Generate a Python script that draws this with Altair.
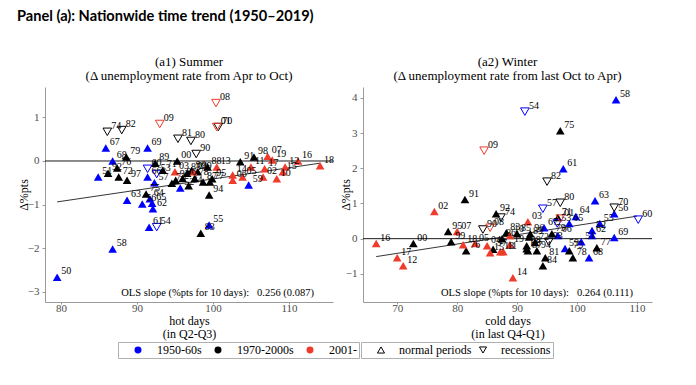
import altair as alt
import pandas as pd

SERIF = "Liberation Serif"

# ---------------- Panel (a1) Summer ----------------
summer_years = ["50","51","52","53","54","55","56","57","58","59",
                "60","61","62","63","64","65","66","67","68","69",
                "70","71","72","73","74","75","76","77","78","79",
                "80","81","82","83","84","85","86","87","88","89",
                "90","91","92","93","94","95","96","97","98","99",
                "00","01","02","03","04","05","06","07","08","09",
                "10","11","12","13","14","15","16","17","18","19"]
summer_hot_days = [79.5, 84.9, 95.7, 92.6, 92.6, 99.5, 90.7, 92.3, 86.8, 104.7,
                   91.4, 91.6, 92.1, 88.7, 91.7, 92.0, 91.4, 85.9, 86.8, 91.4,
                   100.7, 93.4, 87.6, 94.6, 86.1, 91.2, 87.4, 99.6, 97.6, 88.6,
                   97.1, 95.4, 88.0, 98.4, 96.8, 96.6, 96.0, 98.7, 99.3, 92.4,
                   97.8, 103.6, 86.2, 95.1, 99.5, 99.9, 97.2, 88.7, 105.4, 98.0,
                   95.3, 100.5, 106.6, 95.0, 97.4, 103.9, 102.6, 107.2, 100.4, 93.0,
                   108.4, 105.0, 109.5, 100.5, 102.6, 109.2, 111.2, 106.8, 114.1, 107.8]
summer_d_unemp = [-2.67, -0.37, -0.62, -0.30, -1.52, -1.47, -0.99, -0.50, -2.02, -0.55,
                  -0.18, -1.52, -1.10, -0.90, -0.87, -0.97, -0.37, 0.30, 0.00, 0.30,
                  0.78, -0.21, -0.37, -0.51, 0.67, -0.76, -0.16, -0.48, -0.40, 0.09,
                  0.46, 0.51, 0.71, -1.66, -0.57, -0.28, -0.40, -0.48, -0.14, -0.05,
                  0.16, -0.02, -0.28, -0.44, -0.78, -0.41, -0.22, -0.44, 0.09, -0.25,
                  0.00, 0.78, -0.37, -0.25, -0.25, -0.37, -0.44, 0.11, 1.33, 0.85,
                  -0.41, -0.14, -0.14, -0.14, -0.32, -0.25, 0.00, -0.18, -0.11, 0.02]
summer_recession_years = ["53","54","60","70","74","80","81","82","90","01","08","09"]
summer_fit_x = [79.5, 114.1]
summer_fit_y = [-0.94, -0.05]

# ---------------- Panel (a2) Winter ----------------
winter_years = ["51","52","53","54","55","56","57","58","59",
                "60","61","62","63","64","65","66","67","68","69",
                "70","71","72","73","74","75","76","77","78","79",
                "80","81","82","83","84","85","86","87","88","89",
                "90","91","92","93","94","95","96","97","98","99",
                "00","01","02","03","04","05","07","08","09",
                "10","11","12","13","14","15","16","17","18","19"]
winter_cold_days = [100.7, 102.5, 96.7, 91.3, 103.8, 106.2, 94.3, 106.5, 98.0,
                    110.2, 97.7, 102.5, 103.0, 99.8, 98.7, 96.8, 94.5, 102.0, 106.2,
                    106.2, 96.8, 93.0, 98.7, 87.3, 97.2, 81.5, 103.3, 99.3, 95.8,
                    97.2, 94.7, 95.0, 88.2, 94.3, 90.0, 87.5, 91.8, 91.6, 92.0,
                    84.3, 81.3, 86.5, 95.3, 93.3, 78.5, 92.2, 86.0, 91.6, 79.0,
                    72.7, 97.2, 76.2, 91.8, 85.0, 83.0, 80.0, 85.5, 84.5,
                    88.8, 87.7, 71.0, 87.2, 89.3, 85.5, 66.5, 70.0, 81.0, 88.8]
winter_d_unemp = [-0.09, 0.23, 0.43, 3.61, 0.43, 0.71, 0.85, 3.95, -0.28,
                  0.54, 1.99, 0.09, 1.08, 0.63, 0.43, 0.09, 0.31, -0.54, 0.03,
                  0.88, 0.60, -0.11, -0.34, 0.60, 3.07, -0.34, -0.26, -0.54, 0.14,
                  1.02, -0.54, 1.62, 0.17, -0.77, 0.14, 0.00, -0.34, -0.29, 0.05,
                  0.26, 1.11, 0.71, -0.09, -0.34, 0.20, 0.14, -0.30, -0.20, -0.09,
                  -0.14, 0.57, 0.77, 0.48, -0.20, -0.14, 0.20, 0.31, 2.50,
                  0.09, -0.37, -0.77, -0.37, -1.11, -0.40, -0.14, -0.54, -0.17, -0.17]
winter_recession_years = ["53","54","57","60","70","74","80","82","90","93","01","08","09"]
winter_fit_x = [66.5, 110.0]
winter_fit_y = [-0.51, 0.64]

era_domain = ["1950-60s", "1970-2000s", "2001-"]
era_colors = ["#0000FF", "#000000", "#EE3B2B"]
period_domain = ["normal periods", "recessions"]
period_shapes = ["triangle-up", "triangle-down"]


def era_of(y):
    n = int(y)
    if 50 <= n <= 69:
        return era_domain[0]
    if n >= 70 or n == 0:
        return era_domain[1]
    return era_domain[2]


def make_df(years, xs, ys, rec_years):
    return pd.DataFrame({
        "year": years,
        "x": xs,
        "y": ys,
        "era": [era_of(v) for v in years],
        "period": [period_domain[1] if v in rec_years else period_domain[0] for v in years],
    })


summer_df = make_df(summer_years, summer_hot_days, summer_d_unemp, summer_recession_years)
winter_df = make_df(winter_years, winter_cold_days, winter_d_unemp, winter_recession_years)

NB = "\u00a0"
color_enc = alt.Color("era:N", scale=alt.Scale(domain=era_domain, range=era_colors),
                      legend=alt.Legend(title=NB, titleOrient="left", titlePadding=12,
                                        symbolType="circle", symbolSize=30, gridAlign="each",
                                        orient="none", legendX=73, legendY=255,
                                        direction="horizontal",
                                        columnPadding=10, labelOffset=13))
shape_enc = alt.Shape("period:N", scale=alt.Scale(domain=period_domain, range=period_shapes),
                      legend=alt.Legend(title=NB, titleOrient="left", titlePadding=12,
                                        symbolFillColor="white", symbolStrokeColor="black",
                                        symbolStrokeWidth=1, symbolSize=50, gridAlign="each",
                                        orient="none", legendX=316, legendY=255,
                                        direction="horizontal",
                                        columnPadding=5, labelOffset=12))


def panel(df, xdom, ydom, xticks, yticks, title_lines, xtitle_lines, fit_x, fit_y, ols_text,
          w, h, ytitle_x):
    xs = alt.Scale(domain=xdom, nice=False, zero=False)
    ys = alt.Scale(domain=ydom, nice=False, zero=False)
    xax = alt.Axis(values=xticks, title=xtitle_lines, titleLineHeight=13, titlePadding=2, format="d",
                   labelFont=SERIF, tickSize=2, labelPadding=-2)
    yax = alt.Axis(values=yticks, title="Δ%pts", titleX=ytitle_x, format="d",
                   labelFont=SERIF, tickSize=3, labelPadding=3)
    X = lambda f: alt.X(f, scale=xs, axis=xax)
    Y = lambda f: alt.Y(f, scale=ys, axis=yax)

    zero = alt.Chart(pd.DataFrame({"zy": [0.0]})).mark_rule(color="black", strokeWidth=0.9).encode(
        y=alt.Y("zy:Q", scale=ys, axis=yax))
    fit = alt.Chart(pd.DataFrame({"fx": fit_x, "fy": fit_y})).mark_line(
        color="black", strokeWidth=0.8).encode(x=X("fx:Q"), y=Y("fy:Q"))
    base = alt.Chart(df)
    normal = base.transform_filter(alt.datum.period == period_domain[0]).mark_point(
        filled=True, size=75, opacity=1).encode(x=X("x:Q"), y=Y("y:Q"), color=color_enc, shape=shape_enc)
    rec = base.transform_filter(alt.datum.period == period_domain[1]).mark_point(
        filled=False, size=75, opacity=1, strokeWidth=1).encode(x=X("x:Q"), y=Y("y:Q"), color=color_enc, shape=shape_enc)
    labels = base.mark_text(font=SERIF, fontSize=10, align="left", baseline="middle",
                            dx=4, dy=-6, color="black").encode(x=X("x:Q"), y=Y("y:Q"), text="year:N")
    ols = alt.Chart(pd.DataFrame({"t": [ols_text]})).mark_text(
        font=SERIF, fontSize=10.5, align="right", baseline="bottom", color="black").encode(
        x=alt.value(w - 19), y=alt.value(h - 4), text="t:N")
    return alt.layer(zero, fit, normal, rec, labels, ols).properties(
        width=w, height=h,
        title=alt.TitleParams(title_lines, font=SERIF, fontSize=13, fontWeight="normal",
                              anchor="middle", offset=4, lineHeight=14, color="black"))


p1 = panel(summer_df, [77.9, 115.8], [-3.24, 1.70], [80, 90, 100, 110], [-3, -2, -1, 0, 1],
           ["(a1) Summer", "(Δ unemployment rate from Apr to Oct)"],
           ["hot days", "(in Q2-Q3)"], summer_fit_x, summer_fit_y,
           "OLS slope (%pts for 10 days):" + NB * 3 + "0.256 (0.087)", 288, 215, -15)
p2 = panel(winter_df, [64.3, 112.5], [-1.80, 4.31], [70, 80, 90, 100, 110], [-1, 0, 1, 2, 3, 4],
           ["(a2) Winter", "(Δ unemployment rate from last Oct to Apr)"],
           ["cold days", "(in last Q4-Q1)"], winter_fit_x, winter_fit_y,
           "OLS slope (%pts for 10 days):" + NB * 3 + "0.264 (0.111)", 289, 215, -11)

chart = alt.hconcat(p1, p2, spacing=30, bounds="flush").properties(
    title=alt.TitleParams("Panel (a): Nationwide time trend (1950–2019)", anchor="start",
                          font="Lato", fontSize=14.6, fontWeight="bold", color="black", offset=32),
    padding={"left": 9, "top": 1, "right": 5, "bottom": 5},
).configure_view(stroke=None).configure_axis(
    grid=False, domainColor="#9a9a9a", tickColor="#9a9a9a", labelColor="#4d4d4d",
    labelFont=SERIF, labelFontSize=11, titleFont=SERIF, titleFontSize=12,
    titleFontWeight="normal", titleColor="black",
).configure_legend(
    labelFont=SERIF, labelFontSize=12, labelColor="black", strokeColor="#b0b0b0",
    padding=2, titleFont=SERIF, titleFontSize=12,
)

chart.save("out.html", embed_options={"renderer": "svg", "actions": False})
